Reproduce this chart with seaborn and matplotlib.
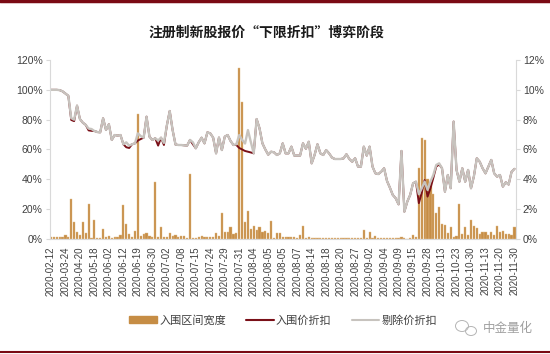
import numpy as np
import pandas as pd
import seaborn as sns
import matplotlib.pyplot as plt
from matplotlib.patches import Patch, Ellipse
from matplotlib.lines import Line2D

# x轴标签(每5个样本显示一次)
date_labels = ['2020-02-12', '2020-03-24', '2020-04-20', '2020-05-18', '2020-06-02',
               '2020-06-12', '2020-06-19', '2020-06-30', '2020-07-02', '2020-07-08',
               '2020-07-15', '2020-07-24', '2020-07-29', '2020-07-31', '2020-08-04',
               '2020-08-05', '2020-08-05', '2020-08-07', '2020-08-14', '2020-08-18',
               '2020-08-20', '2020-08-27', '2020-09-02', '2020-09-04', '2020-09-09',
               '2020-09-15', '2020-09-28', '2020-10-13', '2020-10-23', '2020-10-30',
               '2020-11-13', '2020-11-20', '2020-11-30']

# 入围区间宽度(右轴, %)
band_width = [
    0.10, 0.10, 0.10, 0.13, 0.16, 0.27, 0.13, 2.68, 1.16, 0.49,
    0.27, 1.16, 0.38, 2.37, 0.09, 1.30, 0.09, 0.09, 0.67, 0.16,
    0.22, 0.05, 0.16, 0.16, 0.27, 2.28, 0.98, 0.31, 0.16, 0.56,
    8.37, 0.18, 0.34, 0.38, 0.18, 0.13, 3.85, 0.11, 0.78, 0.13,
    0.16, 0.38, 0.18, 0.27, 0.11, 0.18, 0.18, 0.07, 4.36, 0.05,
    0.05, 0.10, 0.18, 0.16, 0.10, 0.10, 0.10, 0.38, 0.18, 1.72,
    0.49, 0.49, 0.78, 0.31, 0.43, 11.45, 9.20, 1.16, 1.88, 0.67,
    0.90, 0.60, 0.80, 0.49, 0.56, 0.38, 1.23, 0.09, 0.38, 0.38,
    0.16, 0.16, 0.16, 0.16, 0.16, 0.09, 0.25, 0.90, 0.09, 0.13,
    0.09, 0.04, 0.07, 0.07, 0.07, 0.09, 0.09, 0.07, 0.07, 0.04,
    0.04, 0.04, 0.04, 0.04, 0.07, 0.07, 0.04, 0.04, 0.60, 0.04,
    0.45, 0.04, 0.22, 0.09, 0.09, 0.09, 0.04, 0.04, 0.04, 0.04,
    0.04, 0.13, 0.09, 0.02, 0.04, 0.25, 0.16, 4.79, 6.76, 6.62,
    4.00, 3.74, 3.00, 1.72, 2.17, 0.98, 0.94, 0.38, 0.78, 0.16,
    0.22, 2.33, 0.31, 0.83, 0.27, 1.27, 0.87, 0.72, 0.31, 0.45,
    0.45, 0.27, 0.49, 0.27, 0.90, 0.49, 0.56, 0.31, 0.34, 0.27,
    0.83]

# 剔除价折扣(左轴, %)
trim_discount = [
    100, 100, 100, 99.8, 99, 97.5, 96, 81, 80, 89.4,
    80.4, 78, 76.5, 74, 73.7, 72.4, 71.7, 71.5, 80.9, 73.1,
    76.9, 66.4, 69.7, 69.3, 69.7, 63.5, 64.8, 62.6, 63.5, 64.1,
    70.8, 69, 67.9, 82, 68.6, 66.4, 67.5, 66.1, 67.9, 64.4,
    76, 85.8, 73, 63.3, 63, 63, 62.8, 62.6, 66.4, 64.8,
    60.8, 64.8, 67.9, 64.1, 71.5, 70.8, 67.9, 57.4, 68, 59.6,
    68.6, 69.7, 65.7, 63, 63.5, 69.7, 66.4, 64, 73, 65,
    57.4, 80.4, 74.2, 64.1, 60, 56.5, 58.5, 58.1, 56.3, 57.4,
    64.1, 57.4, 57.4, 61.9, 55.9, 55.9, 55.9, 64.1, 60.5, 65.2,
    50.7, 56.3, 63.5, 57.4, 56.3, 59.6, 57.4, 54.6, 53.6, 53.6,
    53.6, 54, 56.8, 53.6, 51.8, 54.1, 48.5, 48.5, 61.9, 55.9,
    61.9, 48.5, 44, 43.5, 45.1, 47.4, 38.9, 34.4, 29.5, 27.3,
    23.2, 59, 18.3, 25, 29.5, 37.3, 38.4, 30, 34, 38.4,
    32.9, 38.4, 42.9, 49.6, 50.7, 47.4, 31.7, 42.9, 34, 78.7,
    46.3, 38.4, 47.4, 38.4, 46.3, 34, 42, 54.1, 51.8, 47.4,
    44, 48.5, 53, 44, 41.8, 42.9, 35.1, 38, 36.5, 45,
    47]

# 入围价折扣(左轴, %)
entry_discount = [
    100, 100, 100, 99.8, 99, 97.5, 96, 79.8, 79, 89.4,
    80.4, 78, 76.5, 72.8, 72.5, 72.4, 71.7, 71.5, 80.9, 73.1,
    76.9, 66.4, 69.7, 69.3, 69.7, 63.5, 61.5, 61, 63.5, 64.1,
    66, 67, 67.9, 82, 68.6, 66.4, 67.5, 62.6, 67.9, 63,
    76, 85.8, 73, 63.3, 63, 63, 62.8, 62.6, 66.4, 63.5,
    60.8, 64.8, 67.9, 64.1, 71.5, 70.8, 67.9, 57.4, 68, 59.6,
    68.6, 69.7, 65.7, 63, 63, 61, 60, 59, 58.5, 58,
    57.4, 80.4, 74.2, 64.1, 60, 56.5, 58.5, 58.1, 56.3, 57.4,
    64.1, 57.4, 57.4, 61.9, 55.9, 55.9, 55.9, 64.1, 60.5, 65.2,
    50.7, 56.3, 63.5, 57.4, 56.3, 59.6, 57.4, 54.6, 53.6, 53.6,
    53.6, 54, 56.8, 53.6, 51.8, 54.1, 48.5, 48.5, 61.9, 55.9,
    61.9, 48.5, 44, 43.5, 45.1, 47.4, 38.9, 34.4, 29.5, 27.3,
    23.2, 59, 18.3, 25, 29.5, 37.3, 38.4, 24, 31, 39.5,
    28.4, 34, 41, 48.5, 50, 47.4, 31.7, 42.9, 34, 78.7,
    46.3, 38.4, 47.4, 38.4, 46.3, 34, 42, 54.1, 51.8, 47.4,
    44, 48.5, 53, 44, 41.8, 42.9, 35.1, 38, 36.5, 45,
    47]

BAR_C = '#C68D45'
RED_C = '#7A1018'
GRAY_C = '#C7C3BE'
AXIS_C = '#D9D9D9'
TXT_C = '#404040'

sns.set_style('white')
plt.rcParams['font.family'] = ['Liberation Sans', 'Noto Sans CJK SC', 'DejaVu Sans']
plt.rcParams['axes.unicode_minus'] = False

n = len(band_width)
df = pd.DataFrame({
    'idx': np.arange(n),
    'band': band_width,
    'entry': entry_discount,
    'trim': trim_discount,
})

fig = plt.figure(figsize=(5.5, 3.54), dpi=100)
ax = fig.add_axes([0.09, 0.325, 0.848, 0.5055])
ax2 = ax.twinx()

# 柱子在右轴, 折线在左轴
sns.barplot(data=df, x='idx', y='band', ax=ax2, color=BAR_C, saturation=1,
            width=0.75, errorbar=None, native_scale=True,
            edgecolor='#E2BC8A', linewidth=0.3)
sns.lineplot(data=df, x='idx', y='entry', ax=ax, color=RED_C, linewidth=1.4)
sns.lineplot(data=df, x='idx', y='trim', ax=ax, color=GRAY_C, linewidth=1.7)

ax.set_zorder(ax2.get_zorder() + 1)
ax.patch.set_visible(False)

ax.set_xlim(-0.5, n - 0.5)
ax.set_ylim(0, 120)
ax2.set_ylim(0, 12)
ax.set_yticks(range(0, 121, 20))
ax.set_yticklabels([f'{v}%' for v in range(0, 121, 20)])
ax2.set_yticks(range(0, 13, 2))
ax2.set_yticklabels([f'{v}%' for v in range(0, 13, 2)])
ax.set_xticks(range(0, n, 5))
ax.set_xticklabels(date_labels, rotation=90)
ax.set_xlabel('')
ax.set_ylabel('')
ax2.set_ylabel('')

ax.tick_params(axis='y', left=True, length=3, color=AXIS_C, labelsize=7.5,
               labelcolor=TXT_C, pad=2)
ax.tick_params(axis='x', bottom=False, labelsize=7, labelcolor=TXT_C, pad=2)
ax2.tick_params(axis='y', right=True, length=3, color=AXIS_C, labelsize=7.5,
                labelcolor=TXT_C, pad=2)

for a in (ax, ax2):
    for s in a.spines.values():
        s.set_visible(False)
ax.spines['left'].set_visible(True)
ax.spines['left'].set_color(AXIS_C)
ax.spines['bottom'].set_visible(True)
ax.spines['bottom'].set_color(AXIS_C)
ax2.spines['right'].set_visible(True)
ax2.spines['right'].set_color(AXIS_C)

# 标题
fig.text(0.485, 0.907, '注册制新股报价“下限折扣”博弈阶段', ha='center', va='center',
         fontsize=10, fontweight='bold', color='#1a1a1a',
         family=['Noto Sans CJK SC', 'DejaVu Sans'])

# 图例
handles = [Patch(facecolor=BAR_C, edgecolor=BAR_C),
           Line2D([0], [0], color=RED_C, lw=1.5),
           Line2D([0], [0], color=GRAY_C, lw=1.5)]
fig.legend(handles, ['入围区间宽度', '入围价折扣', '剔除价折扣'],
           loc='center', bbox_to_anchor=(0.515, 0.096), ncol=3, frameon=False,
           handlelength=2.5, handleheight=0.6, handletextpad=0.2, columnspacing=1.8,
           prop={'family': ['Noto Sans CJK SC'], 'size': 8}, labelcolor=TXT_C)

# 水印
fig.text(0.968, 0.071, '中金量化', ha='right', va='center', fontsize=9,
         color='#a0a0a0', family=['Noto Sans CJK SC'])
fig.add_artist(Ellipse((462 / 550, 1 - 326 / 354), 13 / 550, 11 / 354,
                       transform=fig.transFigure, fill=False, ec='#b5b5b5', lw=0.7))
fig.add_artist(Ellipse((471 / 550, 1 - 331 / 354), 11 / 550, 9 / 354,
                       transform=fig.transFigure, fill=False, ec='#b5b5b5', lw=0.7))

# 上下装饰线
fig.add_artist(Line2D([0, 1], [0.996, 0.996], transform=fig.transFigure,
                      color='#7A0A14', lw=2.5))
fig.add_artist(Line2D([0, 1], [0.006, 0.006], transform=fig.transFigure,
                      color='#7A0A14', lw=1.5))

fig.savefig('out.png', dpi=100)
